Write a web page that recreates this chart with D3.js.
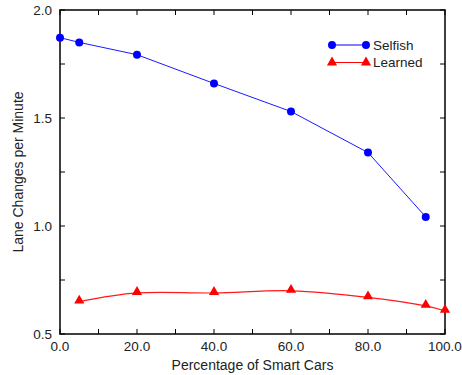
<!DOCTYPE html>
<html>
<head>
<meta charset="utf-8">
<script src="https://cdn.jsdelivr.net/npm/d3@7"></script>
<style>
  body { margin: 0; background: #fff; }
  text { font-family: "Liberation Sans", Arial, sans-serif; fill: #222; }
</style>
</head>
<body>
<div id="chart"></div>
<script>
/* data */
var selfishX = [0, 5, 20, 40, 60, 80, 95];
var selfishY = [1.872, 1.85, 1.793, 1.66, 1.53, 1.34, 1.042];
var learnedX = [5, 20, 40, 60, 80, 95, 100];
var learnedY = [0.65, 0.69, 0.69, 0.70, 0.67, 0.63, 0.607];
var xLabels = [0, 20, 40, 60, 80, 100];
var yLabels = [0.5, 1.0, 1.5, 2.0];
var seriesNames = ["Selfish", "Learned"];

var W = 462, H = 375;
var margin = { left: 60, top: 10, right: 17, bottom: 41 };

var xScale = d3.scaleLinear().domain([0, 100]).range([margin.left, W - margin.right]);
var yScale = d3.scaleLinear().domain([0.5, 2.0]).range([H - margin.bottom, margin.top]);

var svg = d3.select("#chart").append("svg")
  .attr("width", W)
  .attr("height", H);

var x0 = xScale(0), x1 = xScale(100), y0 = yScale(0.5), y1 = yScale(2.0);

/* ticks on all four sides, pointing inward */
var ticksX = d3.range(0, 101, 10);
var ticksY = d3.range(0.5, 2.01, 0.25);
var tl = 5;
var tickG = svg.append("g").attr("stroke", "#000").attr("stroke-width", 1);
ticksX.forEach(function(t) {
  tickG.append("line").attr("x1", xScale(t)).attr("x2", xScale(t)).attr("y1", y0).attr("y2", y0 - tl);
  tickG.append("line").attr("x1", xScale(t)).attr("x2", xScale(t)).attr("y1", y1).attr("y2", y1 + tl);
});
ticksY.forEach(function(t) {
  tickG.append("line").attr("y1", yScale(t)).attr("y2", yScale(t)).attr("x1", x0).attr("x2", x0 + tl);
  tickG.append("line").attr("y1", yScale(t)).attr("y2", yScale(t)).attr("x1", x1).attr("x2", x1 - tl);
});

/* frame */
svg.append("rect")
  .attr("x", x0).attr("y", y1)
  .attr("width", x1 - x0).attr("height", y0 - y1)
  .attr("fill", "none").attr("stroke", "#000").attr("stroke-width", 1.5);

/* tick labels */
svg.append("g").selectAll("text").data(xLabels).enter().append("text")
  .attr("x", d => xScale(d))
  .attr("y", y0 + 17)
  .attr("text-anchor", "middle")
  .attr("font-size", 13.5)
  .text(d => d3.format(".1f")(d));

svg.append("g").selectAll("text").data(yLabels).enter().append("text")
  .attr("x", x0 - 8)
  .attr("y", d => yScale(d) + 4.5)
  .attr("text-anchor", "end")
  .attr("font-size", 13.5)
  .text(d => d3.format(".1f")(d));

/* axis titles */
svg.append("text")
  .attr("x", (x0 + x1) / 2)
  .attr("y", H - 5)
  .attr("text-anchor", "middle")
  .attr("font-size", 14)
  .text("Percentage of Smart Cars");

svg.append("text")
  .attr("transform", `translate(22.5, ${(y0 + y1) / 2}) rotate(-90)`)
  .attr("text-anchor", "middle")
  .attr("font-size", 14)
  .text("Lane Changes per Minute");

/* lines */
var selfishData = selfishX.map((x, i) => ({ x: x, y: selfishY[i] }));
var learnedData = learnedX.map((x, i) => ({ x: x, y: learnedY[i] }));

var lineLinear = d3.line().x(d => xScale(d.x)).y(d => yScale(d.y));
var lineSmooth = d3.line().x(d => xScale(d.x)).y(d => yScale(d.y)).curve(d3.curveCatmullRom);

svg.append("path").attr("d", lineLinear(selfishData))
  .attr("fill", "none").attr("stroke", "#1a1aff").attr("stroke-width", 1);
svg.append("path").attr("d", lineSmooth(learnedData))
  .attr("fill", "none").attr("stroke", "#ff1a1a").attr("stroke-width", 1.2);

var circleSym = d3.symbol().type(d3.symbolCircle).size(50);
var triSym = d3.symbol().type(d3.symbolTriangle).size(45);

svg.append("g").selectAll("path").data(selfishData).enter().append("path")
  .attr("d", circleSym)
  .attr("transform", d => `translate(${xScale(d.x)},${yScale(d.y)})`)
  .attr("fill", "#0000ff");

svg.append("g").selectAll("path").data(learnedData).enter().append("path")
  .attr("d", triSym)
  .attr("transform", d => `translate(${xScale(d.x)},${yScale(d.y) - 1})`)
  .attr("fill", "#ff0000");

/* legend */
var legend = svg.append("g");
var legendItems = [
  { name: seriesNames[0], color: "#0000ff", sym: circleSym, y: 45 },
  { name: seriesNames[1], color: "#ff0000", sym: triSym, y: 62.5 }
];
legendItems.forEach(function(it) {
  legend.append("line").attr("x1", 332).attr("x2", 366).attr("y1", it.y).attr("y2", it.y)
    .attr("stroke", it.color).attr("stroke-width", 1.2);
  [332, 366].forEach(function(px) {
    legend.append("path").attr("d", it.sym)
      .attr("transform", `translate(${px},${it.y})`)
      .attr("fill", it.color);
  });
  legend.append("text").attr("x", 373).attr("y", it.y + 4.5)
    .attr("font-size", 13.5).text(it.name);
});
</script>
</body>
</html>
